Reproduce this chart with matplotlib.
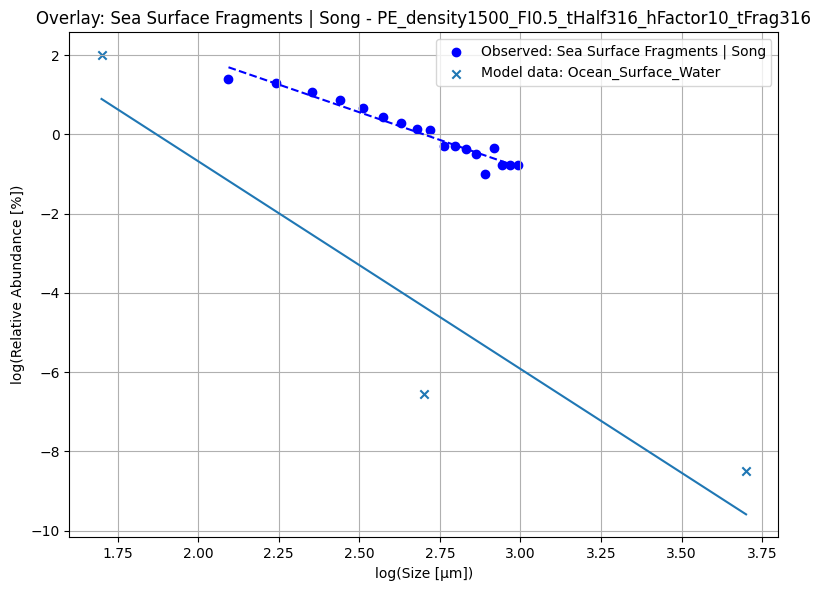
import numpy as np
from matplotlib import pyplot as plt

# observed fragments (log size vs log relative abundance)
obs_log_size = [2.094, 2.240, 2.354, 2.441, 2.512, 2.572, 2.629, 2.678, 2.719,
                2.762, 2.798, 2.832, 2.862, 2.890, 2.918, 2.943, 2.968, 2.992]
obs_log_abund = [1.39, 1.29, 1.08, 0.86, 0.66, 0.43, 0.30, 0.13, 0.11,
                 -0.28, -0.28, -0.36, -0.50, -1.01, -0.35, -0.78, -0.78, -0.78]

# model output
model_log_size = [1.7, 2.7, 3.7]
model_log_abund = [2.0, -6.555, -8.487]

title = 'Overlay: Sea Surface Fragments | Song - PE_density1500_FI0.5_tHalf316_hFactor10_tFrag316'

fig, ax = plt.subplots(figsize=(8.21, 5.9), dpi=100)
fig.subplots_adjust(left=0.0844, right=0.948, bottom=0.0893, top=0.9453)

ax.scatter(obs_log_size, obs_log_abund, color='blue',
           label='Observed: Sea Surface Fragments | Song')
slope, icpt = np.polyfit(obs_log_size, obs_log_abund, 1)
xs = np.array([min(obs_log_size), max(obs_log_size)])
ax.plot(xs, slope * xs + icpt, '--', color='blue')

ax.scatter(model_log_size, model_log_abund, marker='x', color='tab:blue',
           label='Model data: Ocean_Surface_Water')
m_slope, m_icpt = np.polyfit(model_log_size, model_log_abund, 1)
mxs = np.array([min(model_log_size), max(model_log_size)])
ax.plot(mxs, m_slope * mxs + m_icpt, color='tab:blue')

ax.set_xlabel('log(Size [µm])')
ax.set_ylabel('log(Relative Abundance [%])')
ax.set_title(title)
ax.legend(loc='upper right')
ax.grid(True)

fig.savefig('out.png')
